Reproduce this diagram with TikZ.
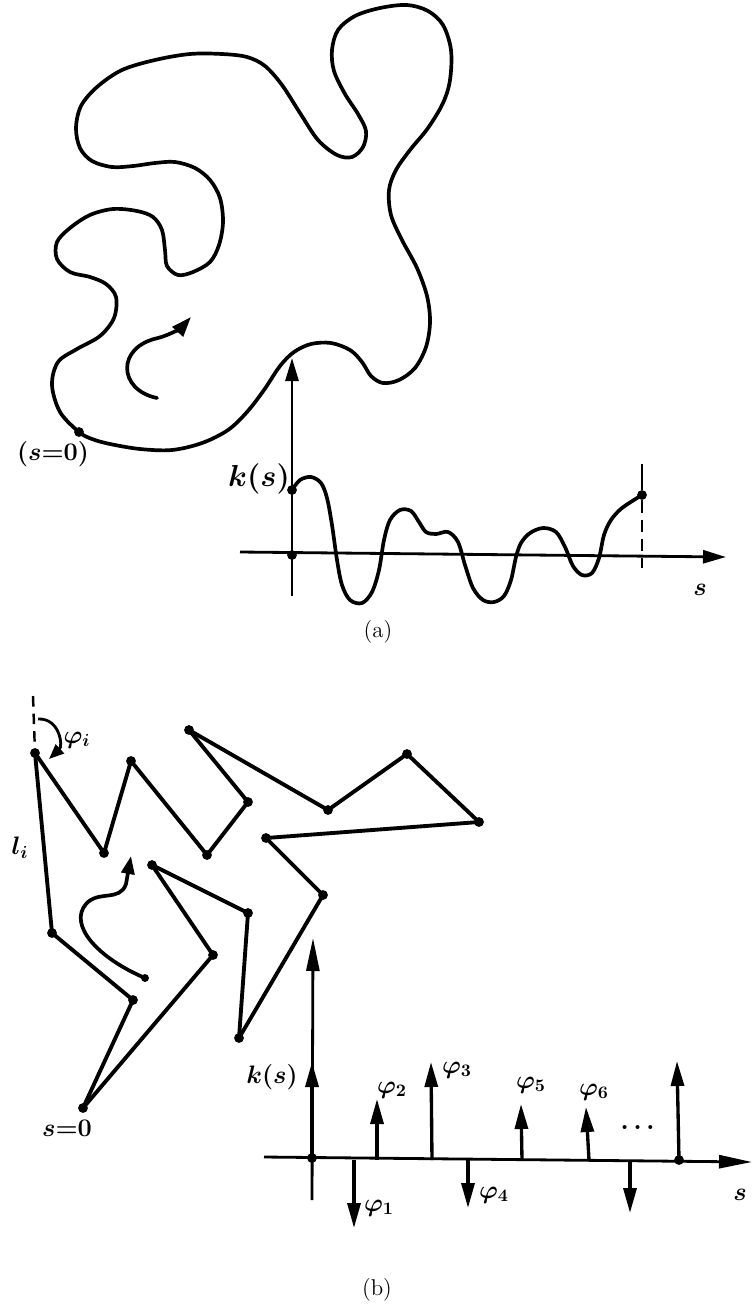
\documentclass[tikz,border=0pt]{standalone}
\usepackage{amsmath,amssymb}
\usepackage{tikz}
\usetikzlibrary{arrows.meta,positioning}

\begin{document}
\begin{tikzpicture}[
  x=0.02cm, y=-0.02cm,
  curve/.style={line width=2.1pt, line join=round, line cap=round},
  edge/.style={line width=2.2pt, line cap=round, line join=round},
  axisa/.style={line width=1.6pt, -{Triangle[length=4.6mm,width=2.6mm]}},
  axisb/.style={line width=1.6pt, -{Triangle[length=6.6mm,width=2.6mm]}},
  spike/.style={line width=1.9pt, -{Triangle[length=5mm,width=2.6mm]}},
  dot/.style={circle, fill, inner sep=0pt, minimum size=5.6pt},
  hand/.style={font=\Large\boldmath},
  subcap/.style={font=\fontsize{13}{15}\selectfont}
]
  \useasboundingbox (0,0) rectangle (752,1305);

  % (a) closed curve and curvature
  \draw[curve] plot[smooth cycle, tension=0.55] coordinates {
    (79,432) (60,412) (52,385) (58,362) (77,349) (100,336) (114,318)
    (116,297) (106,284) (90,277) (70,272) (57,259) (57,242) (70,228)
    (90,215) (113,209) (137,211) (153,217) (162,230) (165,250) (167,266)
    (178,275) (193,272) (210,262) (219,245) (223,222) (220,198) (210,180)
    (195,168) (175,162) (155,163) (133,166) (112,167) (92,161) (80,148)
    (76,128) (81,106) (97,87) (122,70) (155,60) (190,54) (222,54)
    (247,57) (265,66) (282,85) (300,113) (318,140) (337,155) (352,157)
    (363,147) (366,131) (358,114) (345,94) (334,71) (332,50) (338,30)
    (355,16) (380,8) (407,5) (428,11) (443,25) (451,50) (450,80)
    (443,103) (428,128) (410,150) (396,170) (389,190) (391,215) (402,240)
    (417,268) (427,296) (430,322) (426,347) (415,368) (399,380) (383,383)
    (371,376) (362,362) (350,350) (331,343) (311,344) (294,352) (280,366)
    (264,390) (247,412) (228,430) (202,443) (172,450) (140,449) (110,444)
    (92,439)};
  \node[dot] (a0) at (79,432) {};
  \node[hand] (a0lbl) at (53,454) {$(s{=}0)$};
  \draw[curve, -{Triangle[length=4mm,width=2.8mm]}]
    (157,398) .. controls (118,390) and (116,347) .. (158,338)
    .. controls (170,335) and (182,327) .. (191,317);

  \coordinate (ya) at (292,596);
  \coordinate (yat) at (292,358);
  \coordinate (xa) at (240,552);
  \coordinate (xat) at (726,557);
  \draw[axisa] (ya) -- (yat);
  \draw[axisa] (xa) -- (xat);
  \node[dot] (oa) at (292,555) {};
  \node[dot] (ka) at (292,490) {};
  \node[dot] (ea) at (642,495) {};
  \node[hand, font=\LARGE\boldmath] (kalbl) at (259,479) {$k(s)$};
  \node[hand] (sa) at (700,590) {$s$};
  \draw[curve] plot[smooth, tension=0.55] coordinates {
    (292,490) (300,480) (311,477) (321,483) (327,498) (332,525) (337,560)
    (342,585) (350,600) (362,603) (372,592) (379,570) (384,540) (390,520)
    (400,510) (411,511) (419,522) (426,532) (436,534) (448,532) (458,542)
    (465,565) (473,588) (483,600) (494,602) (504,596) (511,580) (516,557)
    (521,543) (530,533) (543,528) (556,532) (565,547) (573,566) (582,575)
    (592,573) (599,558) (604,535) (611,520) (622,508) (642,495)};
  \coordinate (ea1) at (642,464);
  \coordinate (ea2) at (642,568);
  \draw[line width=1.6pt] (ea1) -- (ea);
  \draw[line width=1.6pt, dash pattern=on 7pt off 4pt] (ea) -- (ea2);
  \node[subcap] (capa) at (378,632) {(a)};

  % (b) polygon and its angles
  \foreach \n/\x/\y in {v0/83/1108, v1/133/1000, v2/52/933, v3/35/753,
      v4/104/853, v5/131/761, v6/207/855, v7/248/802, v8/189/730,
      v9/328/810, v10/407/754, v11/479/822, v12/266/838, v13/323/895,
      v14/239/1038, v15/248/913, v16/152/865, v17/213/955}
    \node[dot] (\n) at (\x,\y) {};
  \foreach \a/\b in {v0/v1, v1/v2, v2/v3, v3/v4, v4/v5, v5/v6, v6/v7,
      v7/v8, v8/v9, v9/v10, v10/v11, v11/v12, v12/v13, v13/v14,
      v14/v15, v15/v16, v16/v17, v17/v0}
    \draw[edge] (\a.center) -- (\b.center);
  \node[hand] (v0lbl) at (67,1128) {$s{=}0$};
  \node[hand] (lilbl) at (20,848) {$l_i$};

  \coordinate (vtop) at (33,696);
  \draw[line width=1.4pt, dash pattern=on 6pt off 4pt] (vtop) -- (v3.center);
  \draw[line width=1.6pt, -{Triangle[length=3mm,width=2.4mm]}]
    (38,719) .. controls (60,718) and (63,746) .. (49,759);
  \node[hand] (philbl) at (77,740) {$\varphi_i$};

  \node[dot, minimum size=4.5pt] (w0) at (145,978) {};
  \draw[curve, -{Triangle[length=3.6mm,width=2.6mm]}]
    (w0.center) .. controls (98,958) and (68,925) .. (86,904)
    .. controls (98,890) and (120,902) .. (126,884) -- (131,856);

  % (b) curvature as spikes
  \coordinate (yb) at (312,1200);
  \coordinate (ybt) at (313,938);
  \coordinate (xb) at (264,1157);
  \coordinate (xbt) at (752,1162);
  \draw[axisb] (yb) -- (ybt);
  \draw[axisb] (xb) -- (xbt);
  \node[dot] (ob) at (312,1158) {};
  \node[dot] (eb) at (679,1160) {};
  \draw[spike] (ob.center) -- (312,1062);
  \foreach \i/\xb/\xt/\yt in {1/354/354/1228, 2/377/377/1099,
      3/432/431/1062, 4/468/468/1208, 5/522/521/1104, 6/589/586/1107,
      7/630/630/1213, 8/679/677/1061} {
    \coordinate (bs\i) at (\xb,1160);
    \coordinate (ts\i) at (\xt,\yt);
    \draw[spike] (bs\i) -- (ts\i);
  }
  \node[hand] (kblbl) at (272,1077) {$k(s)$};
  \node[hand] (phi1) at (379,1208) {$\varphi_1$};
  \node[hand] (phi2) at (392,1090) {$\varphi_2$};
  \node[hand] (phi3) at (457,1070) {$\varphi_3$};
  \node[hand] (phi4) at (494,1195) {$\varphi_4$};
  \node[hand] (phi5) at (531,1085) {$\varphi_5$};
  \node[hand] (phi6) at (594,1092) {$\varphi_6$};
  \node[hand] (dots) at (640,1128) {$\dots$};
  \node[hand] (sb) at (740,1195) {$s$};
  \node[subcap] (capb) at (377,1290) {(b)};
\end{tikzpicture}
\end{document}
